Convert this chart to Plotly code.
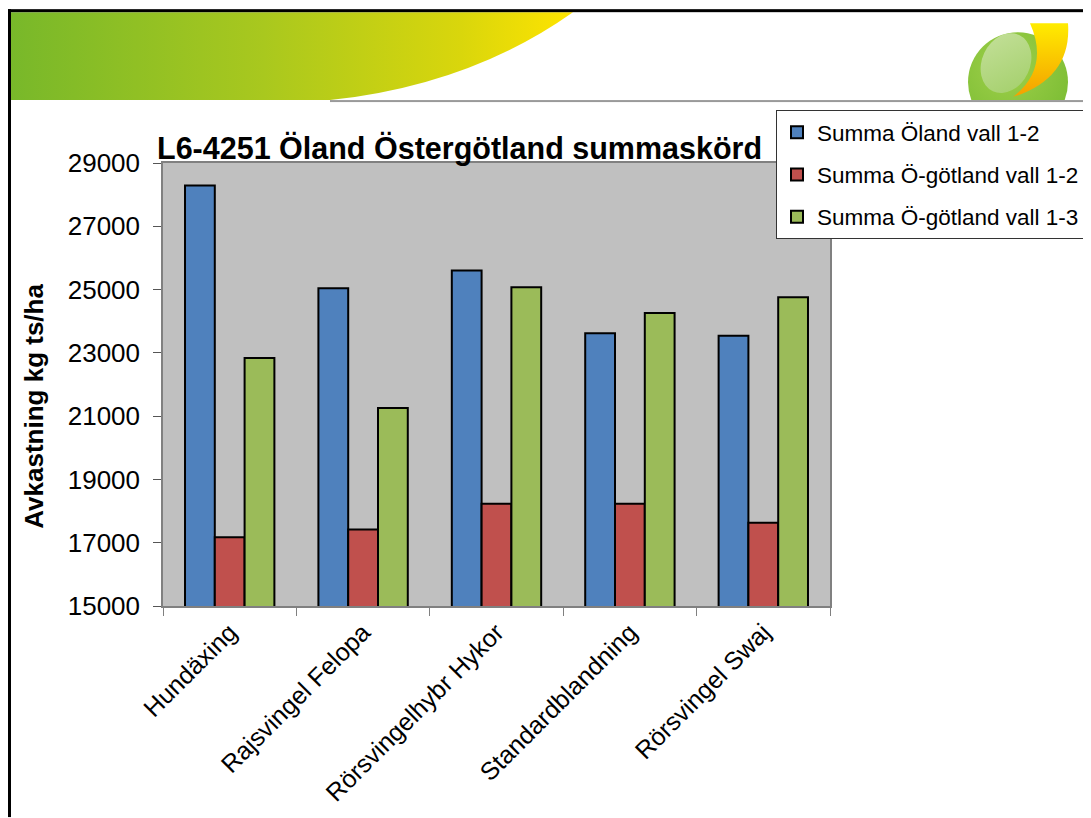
import base64
import plotly.graph_objects as go

# ---------------- data ----------------
categories = ["Hundäxing", "Rajsvingel Felopa", "Rörsvingelhybr Hykor",
              "Standardblandning", "Rörsvingel Swaj"]
series_names = ["Summa Öland vall 1-2", "Summa Ö-götland vall 1-2", "Summa Ö-götland vall 1-3"]
oland_12 = [28290, 25040, 25600, 23620, 23540]
ogotland_12 = [17170, 17420, 18230, 18230, 17630]
ogotland_13 = [22840, 21260, 25070, 24260, 24760]
y_ticks = [15000, 17000, 19000, 21000, 23000, 25000, 27000, 29000]
grid_values = [17000, 19000, 21000, 23000, 27000]
title_text = "L6-4251 Öland Östergötland summaskörd"
y_title = "Avkastning kg ts/ha"

colors = ["#4f81bd", "#c0504d", "#9bbb59"]
FONT = "Liberation Sans, Arial, sans-serif"

# page is offset by the default 8px body margin
OFF = 8
PAGE_W, PAGE_H = 1091, 818
W, H = PAGE_W - OFF, PAGE_H - OFF
# plot area in page pixels: x 163..830, y 163..606.5
L, T = 163 - OFF, 163 - OFF
R, B = PAGE_W - 830, PAGE_H - 606.5
PW, PH = W - L - R, H - T - B


def px_x(x):  # page px -> paper
    return (x - OFF - L) / PW


def px_y(y):
    return (H - B - (y - OFF)) / PH


fig = go.Figure()
for name, vals, col in zip(series_names, [oland_12, ogotland_12, ogotland_13], colors):
    fig.add_trace(go.Bar(
        x=categories, y=vals, name=name, legendgroup=name,
        marker=dict(color=col, line=dict(color="black", width=2)),
    ))

# decorative slide background (banner, borders, logo) in page pixel coordinates
svg = f'''<svg xmlns="http://www.w3.org/2000/svg" width="{W}" height="{H}" viewBox="{OFF} {OFF} {W} {H}">
<defs>
<linearGradient id="g" x1="0" y1="0" x2="1" y2="0">
<stop offset="0" stop-color="#78b82a"/>
<stop offset="0.45" stop-color="#a9c81e"/>
<stop offset="0.8" stop-color="#d9d60c"/>
<stop offset="1" stop-color="#ffe400"/>
</linearGradient>
<linearGradient id="y" x1="0" y1="0" x2="0" y2="1">
<stop offset="0" stop-color="#ffec00"/>
<stop offset="1" stop-color="#f4a000"/>
</linearGradient>
<radialGradient id="c" cx="0.4" cy="0.35" r="0.7">
<stop offset="0" stop-color="#9fd04a"/>
<stop offset="1" stop-color="#7cbd34"/>
</radialGradient>
<linearGradient id="e" x1="0" y1="0" x2="1" y2="1">
<stop offset="0" stop-color="#c4e09a"/>
<stop offset="1" stop-color="#a3cf6a"/>
</linearGradient>
<clipPath id="clip"><rect x="900" y="12" width="191" height="88"/></clipPath>
</defs>
<path d="M11,12 L573,12 Q470,85 330,100 L11,100 Z" fill="url(#g)"/>
<rect x="330" y="100" width="761" height="2" fill="#9a9a9a"/>
<g clip-path="url(#clip)">
<circle cx="1018" cy="82" r="50" fill="url(#c)"/>
<ellipse cx="1006" cy="63" rx="24" ry="31" transform="rotate(25 1006 63)" fill="url(#e)"/>
<path d="M1030,23 L1068,23 Q1072,78 1013,97 Q1050,68 1030,23 Z" fill="url(#y)"/>
</g>
<rect x="8" y="9" width="1083" height="3" fill="black"/>
<rect x="8" y="9" width="3" height="809" fill="black"/>
</svg>'''
src = "data:image/svg+xml;base64," + base64.b64encode(svg.encode("utf-8")).decode("ascii")
fig.add_layout_image(dict(
    source=src, xref="paper", yref="paper",
    x=px_x(OFF), y=px_y(OFF), sizex=W / PW, sizey=H / PH,
    xanchor="left", yanchor="top", sizing="stretch", layer="below",
))

fig.update_layout(
    width=W, height=H,
    margin=dict(l=L, r=R, t=T, b=B, pad=0, autoexpand=False),
    paper_bgcolor="white", plot_bgcolor="#c0c0c0",
    barmode="group", bargap=0.33, bargroupgap=0,
    font=dict(family=FONT, color="black"),
    title=dict(text="<b>" + title_text + "</b>", font=dict(size=30.5, family=FONT, color="black"),
               xref="container", x=(157 - OFF) / W, xanchor="left",
               yref="container", y=1 - (148 - OFF) / H, yanchor="middle"),
    legend=dict(x=px_x(776), y=px_y(110), xanchor="left", yanchor="top",
                bgcolor="white", bordercolor="#333333", borderwidth=1,
                font=dict(size=22.5, family=FONT, color="black"),
                tracegroupgap=10, traceorder="grouped", itemwidth=30),
    xaxis=dict(showgrid=False, showline=True, linecolor="#808080", linewidth=1.5,
               mirror=True, ticks="outside", ticklen=8, tickcolor="#808080",
               tickson="boundaries", tickangle=-45,
               tickfont=dict(size=25, family=FONT, color="black")),
    yaxis=dict(range=[15000, 29000], tickvals=y_ticks, ticktext=[str(v) for v in y_ticks],
               showgrid=False, zeroline=False, showline=True, linecolor="#808080",
               linewidth=1.5, mirror=True, ticks="outside", ticklen=8, tickcolor="#555555",
               tickfont=dict(size=26, family=FONT, color="black"), ticklabelstandoff=8),
    yaxis2=dict(range=[15000, 29000], overlaying="y", tickvals=grid_values,
                showticklabels=False, showgrid=True, gridcolor="#3a3a3a", gridwidth=1.5,
                zeroline=False, showline=False, ticks=""),
    annotations=[dict(text="<b>" + y_title + "</b>", textangle=-90,
                      xref="paper", yref="paper", x=px_x(34), y=px_y(407),
                      xanchor="center", yanchor="middle", showarrow=False,
                      font=dict(size=26, family=FONT, color="black"))],
)

fig.write_html("out.html")
